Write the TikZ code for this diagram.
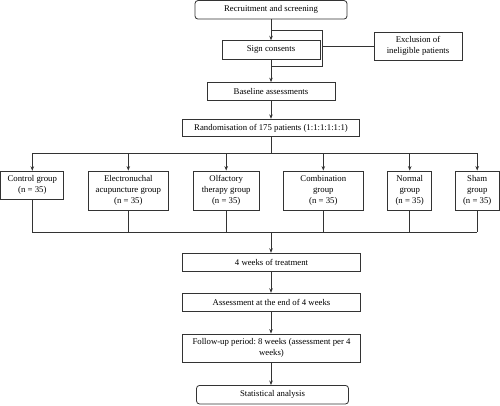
\documentclass[tikz,border=0pt]{standalone}
\usepackage{fontspec}
\setmainfont{Liberation Serif}
\usetikzlibrary{arrows.meta}
\begin{document}
\frenchspacing
\begin{tikzpicture}[x=1pt,y=-1pt,
  line width=0.8pt, draw=black!80,
  box/.style={draw=black!80, line width=0.8pt, inner sep=0pt, align=center,
    font=\fontsize{8.75}{10.8}\selectfont},
  rbox/.style={box, rounded corners=3pt},
  arr/.style={-{Stealth[length=4.5pt,width=3.5pt]}}]
\useasboundingbox (0,0) rectangle (500,405);
\node[rbox, minimum width=152pt, minimum height=18.5pt] (rec) at (271,9.8) {Recruitment and screening};
\node[box, minimum width=98pt, minimum height=18.6pt] (sign) at (271,50) {Sign consents};
\node[box, minimum width=88pt, minimum height=28pt] (excl) at (418,46) {Exclusion of\\ineligible patients};
\node[box, minimum width=128pt, minimum height=17.5pt] (base) at (271,91.3) {Baseline assessments};
\node[box, minimum width=177pt, minimum height=17.5pt] (rand) at (271,128) {Randomisation of 175 patients (1:1:1:1:1:1)};
\node[box, minimum width=63pt, minimum height=28pt] (g1) at (32.3,185.2) {Control group\\(n = 35)};
\node[box, minimum width=80pt, minimum height=39pt] (g2) at (128.3,190.5) {Electronuchal\\acupuncture group\\(n = 35)};
\node[box, minimum width=66pt, minimum height=39pt] (g3) at (226.2,190.5) {Olfactory\\therapy group\\(n = 35)};
\node[box, minimum width=80pt, minimum height=39pt] (g4) at (323.3,190.5) {Combination\\group\\(n = 35)};
\node[box, minimum width=44pt, minimum height=39pt] (g5) at (409.7,190.5) {Normal\\group\\(n = 35)};
\node[box, minimum width=44pt, minimum height=39pt] (g6) at (477.2,190.5) {Sham\\group\\(n = 35)};
\node[box, minimum width=178pt, minimum height=18pt] (four) at (271.5,262.2) {4 weeks of treatment};
\node[box, minimum width=178pt, minimum height=18pt] (assess) at (271.5,302.2) {Assessment at the end of 4 weeks};
\node[box, minimum width=178pt, minimum height=28pt] (follow) at (271.5,348) {Follow-up period: 8 weeks (assessment per 4\\weeks)};
\node[rbox, minimum width=152pt, minimum height=18.5pt] (stat) at (272.5,394.7) {Statistical analysis};
% coordinates
\coordinate (lt) at (271,30.7);
\coordinate (rt) at (322.7,30.7);
\coordinate (rb) at (322.7,66.7);
\coordinate (lb) at (271,66.7);
\coordinate (ex) at (322.7,46);
\coordinate (split) at (271,153.3);
\coordinate (merge) at (271,232.3);
% connectors
\draw[arr] (rec.south) -- (sign.north);
\draw (lt) -- (rt) -- (rb) -- (lb);
\draw (ex) -- (excl.west);
\draw[arr] (sign.south) -- (base.north);
\draw[arr] (base.south) -- (rand.north);
\draw (rand.south) -- (split);
\draw (g1.north |- split) -- (g6.north |- split);
\foreach \g in {g1,g2,g3,g4,g5,g6}{
  \draw[arr] (\g.north |- split) -- (\g.north);
  \draw (\g.south) -- (\g.south |- merge);
}
\draw (g1.south |- merge) -- (g6.south |- merge);
\draw[arr] (merge) -- (four.north -| merge);
\draw[arr] (four.south -| merge) -- (assess.north -| merge);
\draw[arr] (assess.south -| merge) -- (follow.north -| merge);
\draw[arr] (follow.south -| merge) -- (stat.north -| merge);
\end{tikzpicture}
\end{document}
